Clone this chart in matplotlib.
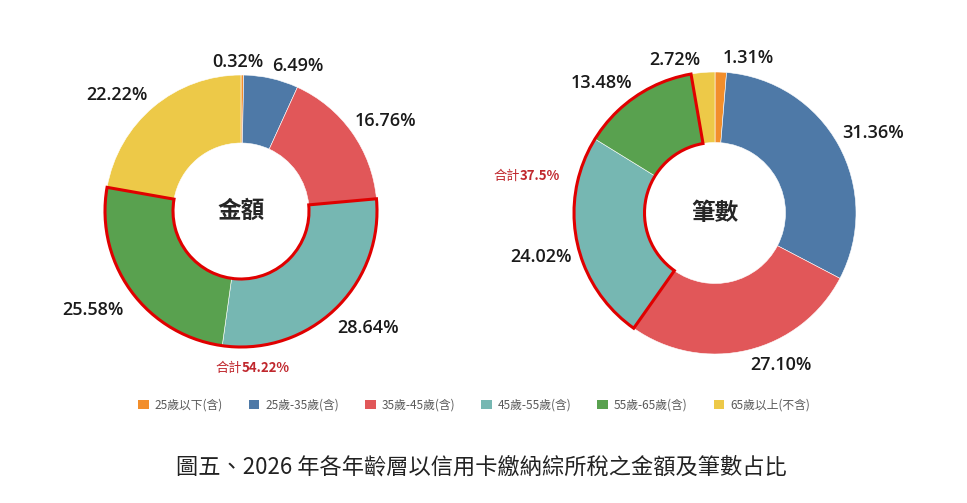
import matplotlib
matplotlib.use("Agg")
import matplotlib.pyplot as plt
from matplotlib.patches import Wedge, Patch
import numpy as np

plt.rcParams['font.family'] = ['Noto Sans CJK TC', 'DejaVu Sans']

# data
age_groups = ["25歲以下(含)", "25歲-35歲(含)", "35歲-45歲(含)",
              "45歲-55歲(含)", "55歲-65歲(含)", "65歲以上(不含)"]
amount_share = [0.32, 6.49, 16.76, 28.64, 25.58, 22.22]
count_share = [1.31, 31.36, 27.10, 24.02, 13.48, 2.72]
title = "圖五、2026 年各年齡層以信用卡繳納綜所稅之金額及筆數占比"

colors = ["#F28E2B", "#4E79A7", "#E15759", "#76B7B2", "#59A14F", "#EDC948"]

W, H = 967, 503
fig = plt.figure(figsize=(W / 100, H / 100), dpi=100)
ax = fig.add_axes([0, 0, 1, 1])
ax.set_xlim(0, W)
ax.set_ylim(0, H)
ax.set_aspect("equal")
ax.axis("off")


def donut(values, cx, cy, r, center_text, nudges, group, total_pos):
    cy = H - cy
    ax.pie(values, colors=colors, startangle=90, counterclock=False,
           center=(cx, cy), radius=r, frame=True,
           wedgeprops=dict(width=r * 0.5, edgecolor="white", linewidth=0.4))
    total = sum(values)
    cum = np.cumsum([0] + list(values)) / total
    # percentage labels
    for i, v in enumerate(values):
        mid = (cum[i] + cum[i + 1]) / 2 * 2 * np.pi
        d = r * 1.24
        x = cx + d * np.sin(mid) + nudges[i][0]
        y = cy + d * np.cos(mid) - nudges[i][1]
        ax.text(x, y, f"{v:.2f}%", ha="center", va="center",
                fontsize=13, fontweight="semibold", color="#1a1a1a",
                family=["Open Sans", "DejaVu Sans"])
    # red outline around the 45-65 group
    a, b = group
    t1 = 90 - 360 * cum[b + 1]
    t2 = 90 - 360 * cum[a]
    ax.add_patch(Wedge((cx, cy), r, t1, t2, width=r * 0.5, facecolor="none",
                       edgecolor="#E00000", linewidth=2.2, zorder=5))
    ax.text(cx, cy, center_text, ha="center", va="center",
            fontsize=17, fontweight="bold", color="#262626")
    group_sum = round(sum(values[a:b + 1]), 2)
    ax.text(total_pos[0], H - total_pos[1], "合計", ha="right", va="center",
            fontsize=9.5, color="#C0272D")
    ax.text(total_pos[0], H - total_pos[1], f"{group_sum:g}%", ha="left",
            va="center", fontsize=9.5, fontweight="bold", color="#C0272D")


donut(amount_share, 241, 211, 136, "金額",
      [(-5, 20), (19, 19), (7, 8), (11, -5), (-12, 0), (-16, 13)],
      (3, 4), (242, 368))
donut(count_share, 715, 213, 141, "筆數",
      [(26, 20), (5, 4), (25, -18), (-3, 9), (-16, 15), (-25, 21)],
      (3, 4), (520, 176))

ax.set_xlim(0, W)
ax.set_ylim(0, H)

handles = [Patch(facecolor=c, edgecolor="none") for c in colors]
fig.legend(handles, age_groups, loc="center", bbox_to_anchor=(474 / W, 1 - 405 / H),
           ncol=6, frameon=False, fontsize=8.5, labelcolor="#595959",
           handlelength=0.9, handleheight=0.9, handletextpad=0.5,
           columnspacing=2.2)

fig.text(481 / W, 1 - 467 / H, title, ha="center", va="center",
         fontsize=16, color="#222222")

fig.savefig("out.png", dpi=100, facecolor="white")
